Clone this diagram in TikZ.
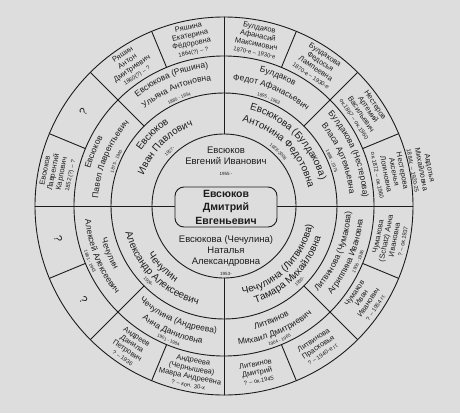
\documentclass[tikz,border=0pt]{standalone}
\usepackage{fontspec}
\setmainfont{Liberation Sans}
\usetikzlibrary{decorations.text}
\definecolor{fanInk}{HTML}{1C1C1C}
\definecolor{fanPaper}{HTML}{DDDDDD}
\newcommand{\fanLineW}{0.9pt}
\newcommand{\fBox}{\fontsize{10.5}{13.5}\selectfont\bfseries}
\newcommand{\fMid}{\fontsize{9.5}{11}\selectfont}
\newcommand{\fOne}{\fontsize{10}{11}\selectfont}
\newcommand{\fTwo}{\fontsize{8.5}{10}\selectfont}
\newcommand{\fThree}{\fontsize{7.5}{8.4}\selectfont}
\newcommand{\fDate}{\fontsize{4.5}{5}\selectfont}
\newcommand{\fDateThree}{\fontsize{5.8}{6}\selectfont}
% text on an arc: upper half clockwise, lower half counter-clockwise
\newcommand{\upText}[5]{%
  \path[decorate, decoration={text along path, text align=center,
        text color=fanInk, text={|#4|#5}}]
    ({#1+#2}:#3) arc[start angle={#1+#2}, end angle={#1-#2}, radius=#3];}
\newcommand{\lowText}[5]{%
  \path[decorate, decoration={text along path, text align=center,
        text color=fanInk, text={|#4|#5}}]
    ({#1-#2}:#3) arc[start angle={#1-#2}, end angle={#1+#2}, radius=#3];}

\begin{document}
\begin{tikzpicture}[x=1pt, y=1pt, line cap=round, line join=round,
  fan line/.style={fanInk, line width=\fanLineW},
  ring three/.style={text=fanInk, font=\fThree, align=center, inner sep=0pt},
  unknown/.style={text=fanInk, font=\fontsize{11}{11}\selectfont, inner sep=0pt}]
  \useasboundingbox (-224,-207) rectangle (236,206);
  \fill[fanPaper] (-224,-207) rectangle (236,206);

  % ===== Rings and dividers =====
  \foreach \r in {72,113,150,189}
    \draw[fan line] (0,0) circle[radius=\r];
  \draw[fan line] (-189,0) -- (189,0);
  \draw[fan line] (90:72) -- (90:189);
  \draw[fan line] (270:72) -- (270:189);
  \foreach \a in {45,135,225,315}
    \draw[fan line] (\a:113) -- (\a:189);
  \foreach \a in {22.5,67.5,...,337.5}
    \draw[fan line] (\a:150) -- (\a:189);

  % ===== Centre: the person and the parents =====
  \node[draw=fanInk, line width=\fanLineW, fill=fanPaper, rounded corners=9pt,
        minimum width=102pt, minimum height=40pt, inner sep=0pt,
        align=center, font=\fBox, text=fanInk] (self) at (2,-1)
    {Евсюков\\Дмитрий\\Евгеньевич};
  \node[text=fanInk, font=\fMid, align=center] (father) at (2,45)
    {Евсюков\\Евгений Иванович\\{\fDate 1955 -}};
  \node[text=fanInk, font=\fMid, align=center] (mother) at (2,-50)
    {Евсюкова (Чечулина)\\Наталья\\Александровна\\{\fDate 1953-}};

  % ===== Ring 1: grandparents =====
  \upText{135}{44}{99.5}{\fOne}{Евсюков}
  \upText{135}{44}{86}{\fOne}{Иван Павлович}
  \upText{135}{44}{75.5}{\fDate}{1927-}
  \upText{45}{44}{99.5}{\fOne}{Евсюкова (Булдакова)}
  \upText{45}{44}{86}{\fOne}{Антонина Федотовна}
  \upText{45}{44}{75.5}{\fDate}{1928-2008}
  \lowText{-135}{44}{90.5}{\fOne}{Чечулин}
  \lowText{-135}{44}{102}{\fOne}{Александр Алексеевич}
  \lowText{-135}{44}{108.5}{\fDate}{1926-}
  \lowText{-45}{44}{90.5}{\fOne}{Чечулина (Литвинова)}
  \lowText{-45}{44}{102}{\fOne}{Тамара Михайловна}
  \lowText{-45}{44}{108.5}{\fDate}{1930-}

  % ===== Ring 2: great-grandparents =====
  \upText{157.5}{22}{139}{\fTwo}{Евсюков}
  \upText{157.5}{22}{126}{\fTwo}{Павел Лаврентьевич}
  \upText{157.5}{22}{115.5}{\fDate}{1875 - 1940}
  \upText{112.5}{22}{139}{\fTwo}{Евсюкова (Ряшина)}
  \upText{112.5}{22}{126}{\fTwo}{Ульяна Антоновна}
  \upText{112.5}{22}{115.5}{\fDate}{1885 - 1954}
  \upText{67.5}{22}{139}{\fTwo}{Булдаков}
  \upText{67.5}{22}{126}{\fTwo}{Федот Афанасьевич}
  \upText{67.5}{22}{115.5}{\fDate}{1895 - 1963}
  \upText{22.5}{22}{139}{\fTwo}{Булдакова (Нестерова)}
  \upText{22.5}{22}{126}{\fTwo}{Власа Артемьевна}
  \upText{22.5}{22}{115.5}{\fDate}{1898 - 1975}
  \lowText{-22.5}{22}{127}{\fTwo}{Литвинова (Чумакова)}
  \lowText{-22.5}{22}{139.5}{\fTwo}{Агриппина Ивановна}
  \lowText{-22.5}{22}{147}{\fDate}{1906 - 1986}
  \lowText{-67.5}{22}{127}{\fTwo}{Литвинов}
  \lowText{-67.5}{22}{139.5}{\fTwo}{Михаил Дмитриевич}
  \lowText{-67.5}{22}{147}{\fDate}{1904 - 1965}
  \lowText{-112.5}{22}{127}{\fTwo}{Чечулина (Андреева)}
  \lowText{-112.5}{22}{139.5}{\fTwo}{Анна Даниловна}
  \lowText{-112.5}{22}{147}{\fDate}{1901 - 1984}
  \lowText{-157.5}{22}{127}{\fTwo}{Чечулин}
  \lowText{-157.5}{22}{139.5}{\fTwo}{Алексей Алексеевич}
  \lowText{-157.5}{22}{147}{\fDate}{1881 - 1943}

  % ===== Ring 3: great-great-grandparents =====
  \foreach \a/\who/\when [count=\i] in {
      11.25/{Нестерова\\Аксенья\\Логиновна}/{ок.1872 – ок.1960},
      33.75/{Нестеров\\Артемий\\Васильевич}/{ок.1867 – ок.1960},
      56.25/{Булдакова\\Федосья\\Лампеевна}/{1870-е – 1930-е},
      78.75/{Булдаков\\Афанасий\\Максимович}/{1870-е – 1930-е},
      101.25/{Ряшина\\Екатерина\\Фёдоровна}/{1864(?) – ?},
      123.75/{Ряшин\\Антон\\Дмитриевич}/{1860(?) – ?},
      168.75/{Евсюков\\Лаврентий\\Карпович}/{1852 (?) – ?}}
    \node[ring three, rotate=\a-90] (up\i) at (\a:169.5) {\who\\{\fDateThree\when}};
  \foreach \a/\who/\when [count=\i] in {
      -11.25/{Чумакова\\(Schatz) Анна\\Ивановна}/{? – ок.1937},
      -33.75/{Чумаков\\Иван\\Иванович}/{? – 1954 гг.},
      -56.25/{Литвинова\\Прасковья}/{? – 1940-е гг.},
      -78.75/{Литвинов\\Дмитрий}/{? – ок.1945},
      -101.25/{Андреева\\(Чернышева)\\Мавра Андреевна}/{? – кон. 30-х},
      -123.75/{Андреев\\Данила\\Петрович}/{? – 1936}}
    \node[ring three, rotate=\a+90] (low\i) at (\a:169.5) {\who\\{\fDateThree\when}};
  \node[unknown, rotate=56.25] (unkA) at (146.25:169) {?};
  \node[unknown, rotate=-56.25] (unkB) at (-146.25:169) {?};
  \node[unknown, rotate=-78.75] (unkC) at (-168.75:169) {?};

  % outside the wheel
  \node[ring three, rotate=-79] (avdotya) at (10.5:201)
    {Авдотья\\Михайловна\\{\fDateThree 1884г. – 1920-25}};
\end{tikzpicture}
\end{document}
